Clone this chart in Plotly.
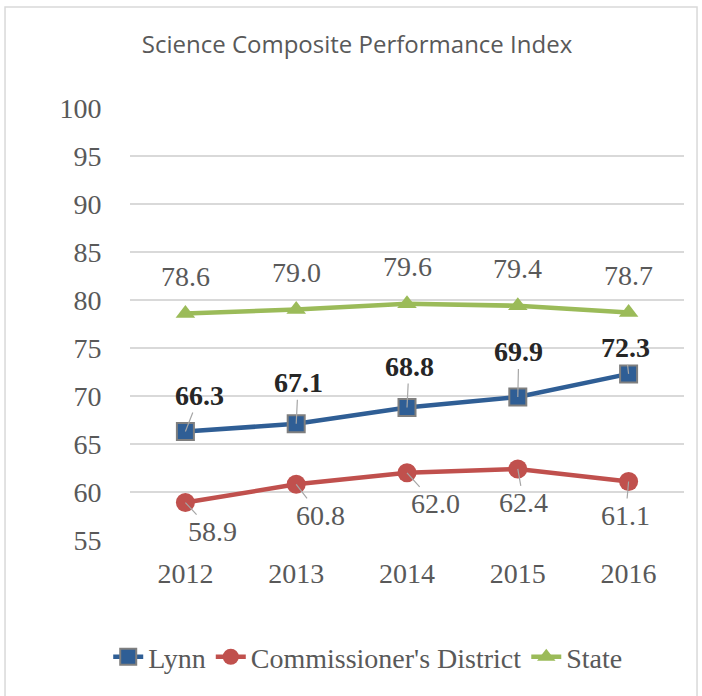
import plotly.graph_objects as go

# data
years = ['2012', '2013', '2014', '2015', '2016']
lynn = [66.3, 67.1, 68.8, 69.9, 72.3]
district = [58.9, 60.8, 62.0, 62.4, 61.1]
state = [78.6, 79.0, 79.6, 79.4, 78.7]
y_ticks = [55, 60, 65, 70, 75, 80, 85, 90, 95, 100]

# label offsets in pixels (style only)
lynn_dx = [14, 2, 2, 1, -3]
lynn_dy = [-36, -41, -41, -45, -26]
dist_dx = [27, 24, 28, 6, -3]
dist_dy = [29, 31, 31, 34, 34]

SERIF = 'Liberation Serif'
GREY_TXT = '#595959'
BLUE = '#2F5E95'
RED = '#C0504D'
GREEN = '#9BBB59'

xpos = list(range(len(years)))

fig = go.Figure()

fig.add_trace(go.Scatter(
    x=xpos, y=lynn, name='Lynn', mode='lines+markers',
    line=dict(color=BLUE, width=4.5),
    marker=dict(symbol='square', size=17, color=BLUE,
                line=dict(color='#7F7F7F', width=2))))

fig.add_trace(go.Scatter(
    x=xpos, y=district, name="Commissioner's District", mode='lines+markers',
    line=dict(color=RED, width=4.5),
    marker=dict(symbol='circle', size=19, color=RED)))

fig.add_trace(go.Scatter(
    x=xpos, y=state, name='State', mode='lines+markers',
    line=dict(color=GREEN, width=4.5),
    marker=dict(symbol='triangle-up', size=17, color=GREEN)))

# state labels above the points
for i in xpos:
    fig.add_annotation(
        x=i, y=state[i], text='%.1f' % state[i], showarrow=False,
        yshift=37, font=dict(family=SERIF, size=28, color=GREY_TXT))

# Lynn labels (bold) with leader lines
for i in xpos:
    fig.add_annotation(
        x=i, y=lynn[i], text='<b>%.1f</b>' % lynn[i],
        showarrow=True, arrowhead=0, arrowwidth=1.2, arrowcolor='#A6A6A6',
        ax=lynn_dx[i], ay=lynn_dy[i], standoff=0,
        font=dict(family=SERIF, size=28, color='#262626'))

# district labels with leader lines
for i in xpos:
    fig.add_annotation(
        x=i, y=district[i], text='%.1f' % district[i],
        showarrow=True, arrowhead=0, arrowwidth=1.2, arrowcolor='#A6A6A6',
        ax=dist_dx[i], ay=dist_dy[i], standoff=0,
        font=dict(family=SERIF, size=28, color=GREY_TXT))

# chart border
fig.add_shape(type='rect', xref='paper', yref='paper',
              x0=-0.2256, x1=1.0235, y0=-0.40, y1=1.2338,
              line=dict(color='#D9D9D9', width=1.5), layer='below')

fig.update_layout(
    width=702, height=696,
    margin=dict(l=130, r=18, t=108, b=156),
    plot_bgcolor='white', paper_bgcolor='white',
    title=dict(text='Science Composite Performance Index',
               x=357 / 702, xanchor='center', y=1 - 45 / 696, yanchor='middle',
               font=dict(family='Open Sans', size=24, color=GREY_TXT)),
    showlegend=True,
    legend=dict(orientation='h', x=0.43, xanchor='center', y=-0.271, yanchor='middle',
                font=dict(family=SERIF, size=28, color=GREY_TXT)),
    xaxis=dict(range=[-0.5, 4.5], tickvals=xpos, ticktext=years,
               showgrid=False, showline=False, zeroline=False,
               ticks='outside', ticklen=8, tickcolor='rgba(0,0,0,0)',
               tickfont=dict(family=SERIF, size=28, color=GREY_TXT)),
    yaxis=dict(range=[55, 100], tickvals=y_ticks, showgrid=True,
               gridcolor='#D9D9D9', gridwidth=1.5, zeroline=False, showline=False,
               ticks='outside', ticklen=22, tickcolor='rgba(0,0,0,0)',
               tickfont=dict(family=SERIF, size=28, color=GREY_TXT)),
)

fig.write_html('out.html', config={'displayModeBar': False},
               post_script="document.body.style.margin='0';")
